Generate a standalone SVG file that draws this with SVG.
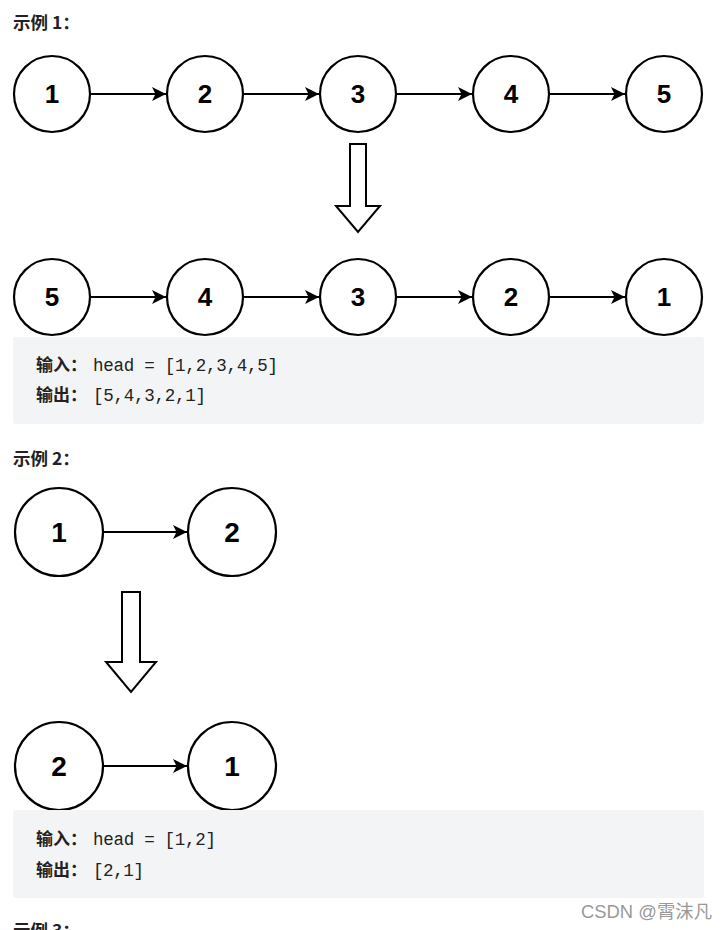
<svg xmlns="http://www.w3.org/2000/svg" width="728" height="930" viewBox="0 0 728 930">
<defs>
<marker id="ah" viewBox="0 0 10 10" refX="10" refY="5" markerWidth="7" markerHeight="7" markerUnits="strokeWidth" orient="auto">
<path d="M0,0 L10,5 L0,10 L2.5,5 Z" fill="#000"/>
</marker>
<style>
.node circle{fill:#fff;stroke:#000;stroke-width:2.2}
.node text{font-family:"Liberation Sans",Arial,sans-serif;font-weight:bold;text-anchor:middle;fill:#000}
.n1 text{font-size:26px}
.n2 text{font-size:28px}
.edge{stroke:#000;stroke-width:2;fill:none;marker-end:url(#ah)}
.big{fill:#fff;stroke:#000;stroke-width:2;stroke-linejoin:miter}
.h{font-family:"Noto Sans CJK SC","Liberation Sans",sans-serif;font-weight:bold;font-size:17.5px;fill:#222}
.code{font-family:"Liberation Mono","DejaVu Sans Mono","Noto Sans CJK SC",monospace;font-size:17.5px;fill:#222}
.cjk{font-family:"Noto Sans CJK SC",sans-serif;font-weight:bold;font-size:17px;fill:#222}
.box{fill:#f3f4f5}
</style>
</defs>
<rect width="728" height="930" fill="#fff"/>

<text class="h" x="13" y="29">示例 1：</text>

<g id="connectors">
<line class="edge" x1="91" y1="94" x2="166" y2="94"/>
<line class="edge" x1="244" y1="94" x2="319" y2="94"/>
<line class="edge" x1="397" y1="94" x2="472" y2="94"/>
<line class="edge" x1="550" y1="94" x2="625" y2="94"/>
<line class="edge" x1="91" y1="297" x2="166" y2="297"/>
<line class="edge" x1="244" y1="297" x2="319" y2="297"/>
<line class="edge" x1="397" y1="297" x2="472" y2="297"/>
<line class="edge" x1="550" y1="297" x2="625" y2="297"/>
<line class="edge" x1="104" y1="532" x2="187" y2="532"/>
<line class="edge" x1="104" y1="766" x2="187" y2="766"/>
</g>

<g id="e1-top">
<g id="a1" class="node n1"><circle cx="52" cy="94" r="38"/><text x="52" y="103">1</text></g>
<g id="a2" class="node n1"><circle cx="205" cy="94" r="38"/><text x="205" y="103">2</text></g>
<g id="a3" class="node n1"><circle cx="358" cy="94" r="38"/><text x="358" y="103">3</text></g>
<g id="a4" class="node n1"><circle cx="511" cy="94" r="38"/><text x="511" y="103">4</text></g>
<g id="a5" class="node n1"><circle cx="664" cy="94" r="38"/><text x="664" y="103">5</text></g>
</g>

<g id="down1"><path class="big" d="M350,144 L366,144 L366,206 L380,206 L358,232 L336,206 L350,206 Z"/></g>

<g id="e1-bottom">
<g id="b5" class="node n1"><circle cx="52" cy="297" r="38"/><text x="52" y="306">5</text></g>
<g id="b4" class="node n1"><circle cx="205" cy="297" r="38"/><text x="205" y="306">4</text></g>
<g id="b3" class="node n1"><circle cx="358" cy="297" r="38"/><text x="358" y="306">3</text></g>
<g id="b2" class="node n1"><circle cx="511" cy="297" r="38"/><text x="511" y="306">2</text></g>
<g id="b1" class="node n1"><circle cx="664" cy="297" r="38"/><text x="664" y="306">1</text></g>
</g>

<g id="box1">
<rect class="box" x="13" y="337" width="691" height="87" rx="3"/>
<text x="36" y="371"><tspan class="cjk">输入：</tspan><tspan class="code" x="93" textLength="185">head = [1,2,3,4,5]</tspan></text>
<text x="36" y="401"><tspan class="cjk">输出：</tspan><tspan class="code" x="93" textLength="113">[5,4,3,2,1]</tspan></text>
</g>

<text class="h" x="13" y="465">示例 2：</text>

<g id="e2-top">
<g id="c1" class="node n2"><circle cx="59" cy="532" r="44"/><text x="59" y="542">1</text></g>
<g id="c2" class="node n2"><circle cx="232" cy="532" r="44"/><text x="232" y="542">2</text></g>
</g>

<g id="down2"><path class="big" d="M122,592 L140,592 L140,662 L156,662 L131,692 L106,662 L122,662 Z"/></g>

<g id="e2-bottom">
<g id="d2" class="node n2"><circle cx="59" cy="766" r="44"/><text x="59" y="776">2</text></g>
<g id="d1" class="node n2"><circle cx="232" cy="766" r="44"/><text x="232" y="776">1</text></g>
</g>

<g id="box2">
<rect class="box" x="13" y="810" width="691" height="88" rx="3"/>
<text x="36" y="845"><tspan class="cjk">输入：</tspan><tspan class="code" x="93" textLength="123">head = [1,2]</tspan></text>
<text x="36" y="876"><tspan class="cjk">输出：</tspan><tspan class="code" x="93" textLength="51">[2,1]</tspan></text>
</g>

<text class="h" x="13" y="937">示例 3：</text>

<text x="581" y="918" font-family="'Liberation Sans','Noto Sans CJK SC',sans-serif" font-size="18.4" fill="#999">CSDN @霄沫凡</text>
</svg>
